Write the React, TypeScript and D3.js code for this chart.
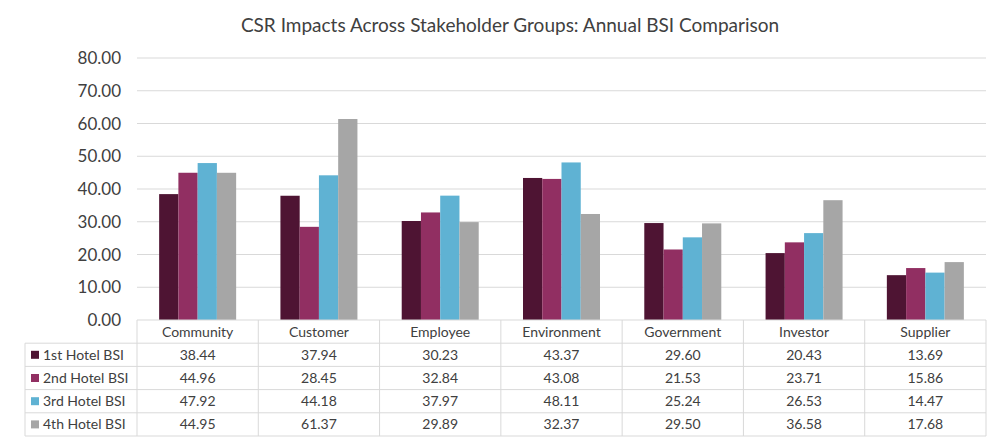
import React from "react";
import * as d3 from "d3";

const categories = ["Community","Customer","Employee","Environment","Government","Investor","Supplier"];
const seriesNames = ["1st Hotel BSI","2nd Hotel BSI","3rd Hotel BSI","4th Hotel BSI"];
const s1 = [38.44,37.94,30.23,43.37,29.60,20.43,13.69];
const s2 = [44.96,28.45,32.84,43.08,21.53,23.71,15.86];
const s3 = [47.92,44.18,37.97,48.11,25.24,26.53,14.47];
const s4 = [44.95,61.37,29.89,32.37,29.50,36.58,17.68];
const yTicks = [0,10,20,30,40,50,60,70,80];
const colors = ["#4E1433","#912F62","#5FB2D3","#A6A6A6"];

export default function App() {
  const W = 1000, H = 446;
  const left = 137, right = 986, top = 58, bottom = 320;
  const data = [s1,s2,s3,s4];
  const x = d3.scaleBand<string>().domain(categories).range([left,right]);
  const xi = d3.scaleBand<number>().domain([0,1,2,3]).range([0, 77]).padding(0);
  const y = d3.scaleLinear().domain([0,80]).range([bottom,top]);
  const rowH = 23.2;
  const tableLeft = 25;
  const font = "Lato, 'Open Sans', sans-serif";
  return (
    <svg width={W} height={H} style={{position:"absolute",left:0,top:0,background:"#fff"}} fontFamily={font}>
      <text x={510} y={32} textAnchor="middle" fontSize={19} fill="#404040">CSR Impacts Across Stakeholder Groups: Annual BSI Comparison</text>
      {yTicks.map(t => (
        <g key={t}>
          {t>0 && <line x1={left} x2={right} y1={y(t)} y2={y(t)} stroke="#d9d9d9"/>}
          <text x={121} y={y(t)+6} textAnchor="end" fontSize={17} fill="#404040">{t.toFixed(2)}</text>
        </g>
      ))}
      {categories.map((c,ci) => data.map((s,si) => (
        <rect key={c+si} x={x(c)!+(x.bandwidth()-77)/2+xi(si)!} y={y(s[ci])} width={xi.bandwidth()} height={bottom-y(s[ci])} fill={colors[si]}/>
      )))}
      {/* table */}
      <line x1={left} x2={right} y1={bottom} y2={bottom} stroke="#d9d9d9"/>
      {[0,1,2,3,4].map(r => (
        <line key={r} x1={tableLeft} x2={right} y1={bottom+rowH*(r+1)} y2={bottom+rowH*(r+1)} stroke="#d9d9d9"/>
      ))}
      <line x1={tableLeft} x2={tableLeft} y1={bottom+rowH} y2={bottom+rowH*5} stroke="#d9d9d9"/>
      {categories.map((c,i) => (
        <line key={c} x1={x(c)!} x2={x(c)!} y1={bottom} y2={bottom+rowH*5} stroke="#d9d9d9"/>
      ))}
      <line x1={right} x2={right} y1={bottom} y2={bottom+rowH*5} stroke="#d9d9d9"/>
      {categories.map(c => (
        <text key={c} x={x(c)!+x.bandwidth()/2} y={bottom+rowH/2+5} textAnchor="middle" fontSize={14} fill="#404040">{c}</text>
      ))}
      {seriesNames.map((n,si) => (
        <g key={n}>
          <rect x={31} y={bottom+rowH*(si+1)+rowH/2-4} width={8} height={8} fill={colors[si]}/>
          <text x={43} y={bottom+rowH*(si+1)+rowH/2+5} fontSize={14} fill="#404040">{n}</text>
          {categories.map((c,ci) => (
            <text key={c} x={x(c)!+x.bandwidth()/2} y={bottom+rowH*(si+1)+rowH/2+5} textAnchor="middle" fontSize={14} fill="#404040">{data[si][ci].toFixed(2)}</text>
          ))}
        </g>
      ))}
    </svg>
  );
}
